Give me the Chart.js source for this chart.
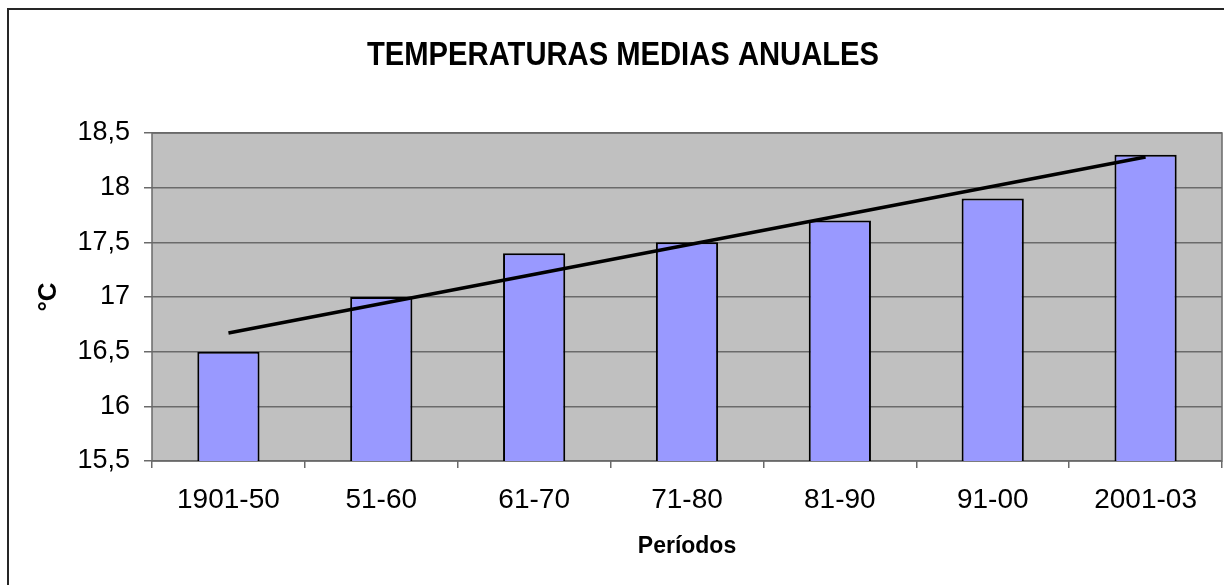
<!DOCTYPE html>
<html>
<head>
<meta charset="utf-8">
<script src="https://cdn.jsdelivr.net/npm/chart.js@4.4.1/dist/chart.umd.min.js"></script>
<style>
  html, body { margin: 0; padding: 0; background: #ffffff; }
  #wrap { width: 1224px; height: 585px; }
</style>
</head>
<body>
<div id="wrap"><canvas id="c" width="1224" height="585"></canvas></div>
<script>
// ---- Data ----
const chartTitle = 'TEMPERATURAS MEDIAS ANUALES';
const xAxisTitle = 'Períodos';
const yAxisTitle = '°C';
const categories = ['1901-50', '51-60', '61-70', '71-80', '81-90', '91-00', '2001-03'];
const temperatures = [16.5, 17.0, 17.4, 17.5, 17.7, 17.9, 18.3];
// trend line end points (gaps spanned)
const trendValues = [16.67, null, null, null, null, null, 18.28];
const yTickValues = [15.5, 16, 16.5, 17, 17.5, 18, 18.5];
const yTickLabels = ['15,5', '16', '16,5', '17', '17,5', '18', '18,5'];

const FONT = '"Liberation Sans", Arial, Helvetica, sans-serif';
const GRID = '#6a6a6a';

const frameAndBackground = {
  id: 'frameAndBackground',
  beforeDraw(chart) {
    const ctx = chart.ctx;
    const a = chart.chartArea;
    ctx.save();
    ctx.fillStyle = '#ffffff';
    ctx.fillRect(0, 0, chart.width, chart.height);
    // outer chart border
    ctx.strokeStyle = '#262626';
    ctx.lineWidth = 2;
    ctx.strokeRect(8, 9, 1400, 800);
    // plot area fill
    ctx.fillStyle = '#C0C0C0';
    ctx.fillRect(a.left, a.top, a.right - a.left, a.bottom - a.top);
    ctx.restore();
  },
  beforeDatasetsDraw(chart) {
    const ctx = chart.ctx;
    const a = chart.chartArea;
    ctx.save();
    ctx.strokeStyle = GRID;
    ctx.lineWidth = 1.5;
    ctx.strokeRect(a.left, a.top, a.right - a.left, a.bottom - a.top);
    ctx.restore();
  },
  afterDraw(chart) {
    const ctx = chart.ctx;
    ctx.save();
    ctx.font = 'bold 33px ' + FONT;
    ctx.fillStyle = '#000000';
    ctx.textAlign = 'center';
    ctx.textBaseline = 'alphabetic';
    const w = ctx.measureText(chartTitle).width;
    ctx.translate(623, 65);
    ctx.scale(512 / w, 1);
    ctx.fillText(chartTitle, 0, 0);
    ctx.restore();
  }
};

new Chart(document.getElementById('c'), {
  data: {
    labels: categories,
    datasets: [
      {
        type: 'line',
        label: 'Tendencia',
        data: trendValues,
        spanGaps: true,
        borderColor: '#000000',
        borderWidth: 3.5,
        pointRadius: 0,
        fill: false,
        order: 0
      },
      {
        type: 'bar',
        label: 'Temperatura media',
        data: temperatures,
        backgroundColor: '#9999FF',
        borderColor: '#000000',
        borderWidth: 2,
        borderSkipped: false,
        barPercentage: 0.407,
        categoryPercentage: 1.0,
        order: 1
      }
    ]
  },
  options: {
    responsive: false,
    animation: false,
    layout: { padding: { top: 133, left: 0, right: 2, bottom: 0 } },
    plugins: {
      legend: { display: false },
      tooltip: { enabled: false },
      title: { display: false }
    },
    scales: {
      x: {
        offset: true,
        grid: {
          offset: true,
          drawOnChartArea: false,
          drawTicks: true,
          tickLength: 7,
          color: GRID,
          lineWidth: 1.5
        },
        border: { display: false },
        ticks: {
          color: '#000000',
          font: { family: FONT, size: 28 },
          padding: 15,
          maxRotation: 0,
          autoSkip: false
        },
        title: {
          display: true,
          text: xAxisTitle,
          color: '#000000',
          font: { family: FONT, size: 23, weight: 'bold' },
          padding: { top: 0, bottom: 25 }
        },
        afterFit(scale) { scale.height = 124; }
      },
      y: {
        min: 15.5,
        max: 18.5,
        afterBuildTicks(scale) {
          scale.ticks = yTickValues.map(v => ({ value: v }));
        },
        grid: {
          drawOnChartArea: true,
          drawTicks: true,
          tickLength: 8,
          color: GRID,
          lineWidth: 1.5
        },
        border: { display: false },
        ticks: {
          color: '#000000',
          font: { family: FONT, size: 27 },
          padding: 14,
          callback(value) {
            const i = yTickValues.indexOf(value);
            return i >= 0 ? yTickLabels[i] : '';
          }
        },
        title: {
          display: true,
          text: yAxisTitle,
          color: '#000000',
          font: { family: FONT, size: 26, weight: 'bold' },
          padding: { top: 33, bottom: 0 }
        },
        afterFit(scale) { scale.width = 152; }
      }
    }
  },
  plugins: [frameAndBackground]
});
</script>
</body>
</html>
